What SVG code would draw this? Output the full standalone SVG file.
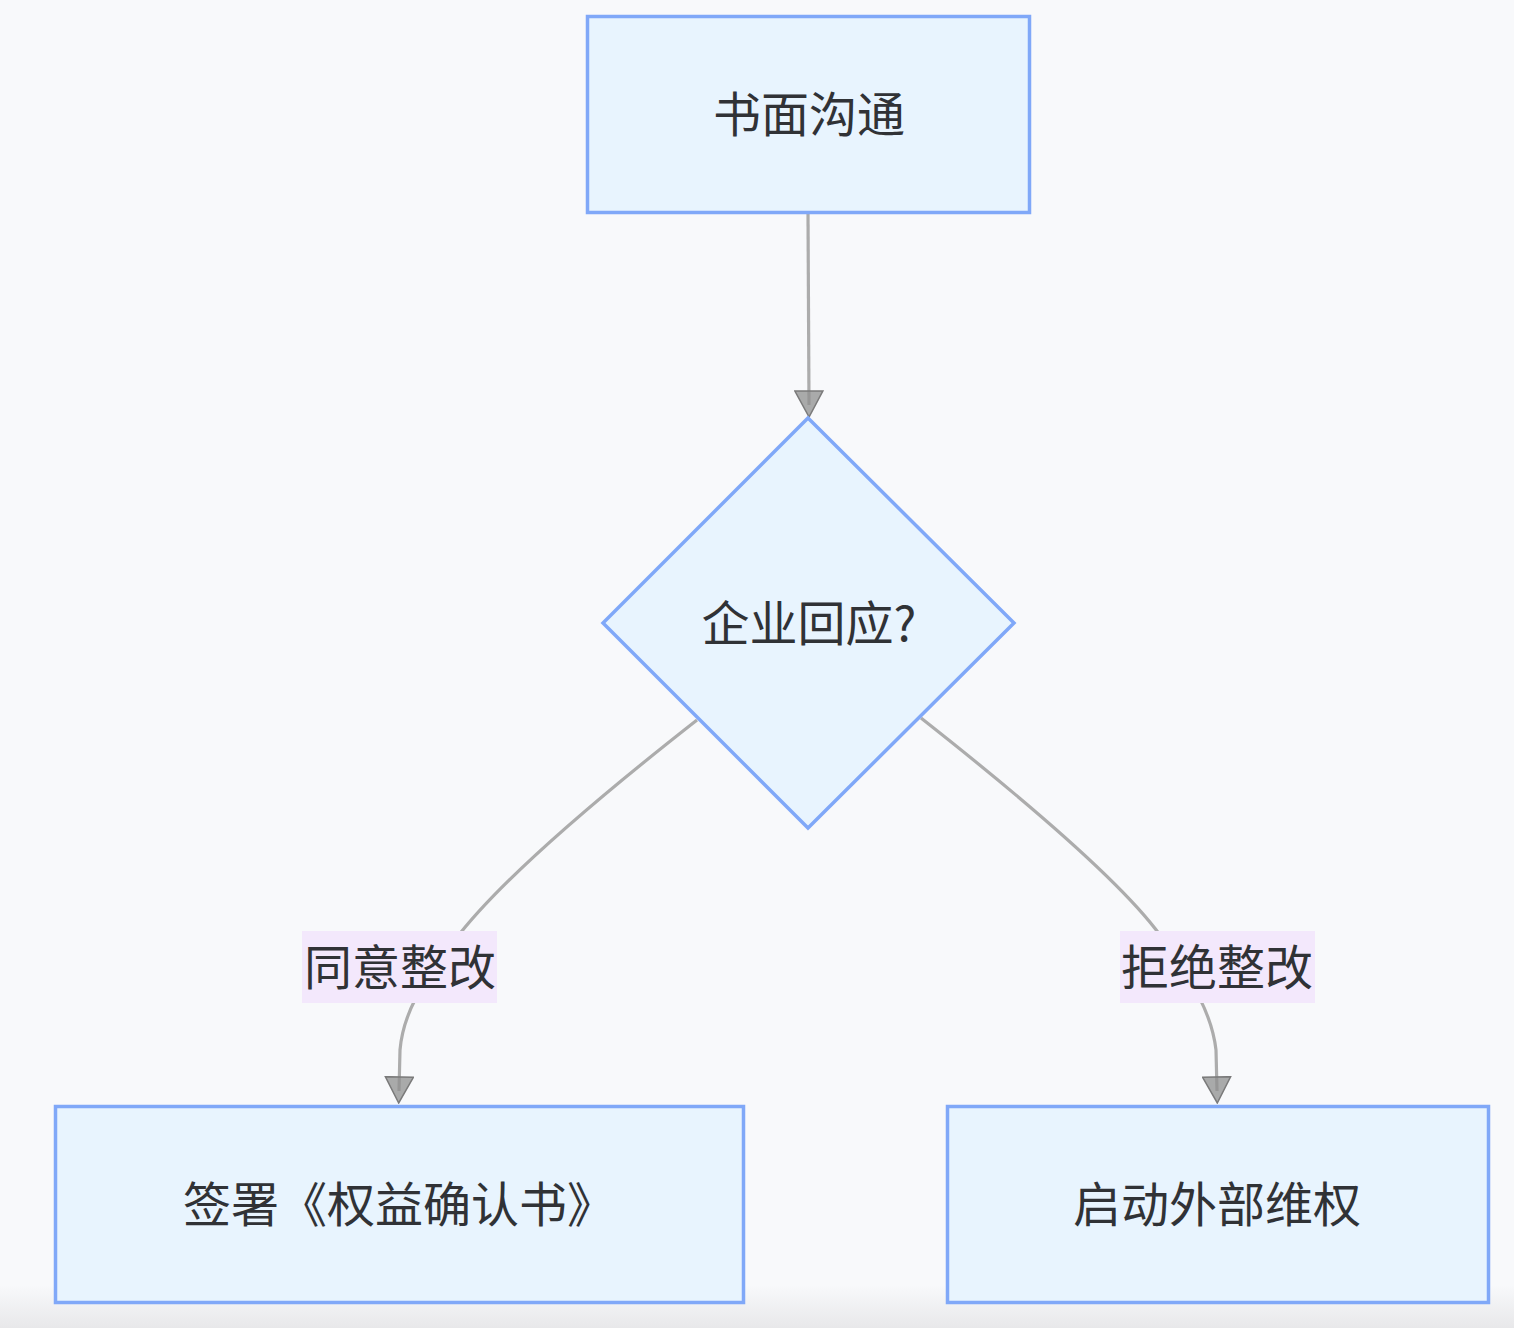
<svg xmlns="http://www.w3.org/2000/svg" width="1514" height="1328" viewBox="0 0 1514 1328">
  <defs>
    <style>
      .node { fill: #e8f4fe; stroke: #80a8f8; stroke-width: 3.5; }
      .edge { fill: none; stroke: #acacac; stroke-width: 3.2; }
      .txt { font-family: "Noto Sans CJK SC", "Noto Sans", sans-serif; font-size: 48px; fill: #303236; text-anchor: middle; dominant-baseline: central; }
      .lblbg { fill: #f3e8fc; }
    </style>
    <marker id="arrow" viewBox="0 0 28 30" refX="15" refY="15" markerWidth="28" markerHeight="30" markerUnits="userSpaceOnUse" orient="auto">
      <path d="M1,1 L27,15 L1,29 z" fill="#8f8f8f" fill-opacity="0.75" stroke="#7a7a7a" stroke-width="1.5"/>
    </marker>
    <linearGradient id="floor" x1="0" y1="0" x2="0" y2="1">
      <stop offset="0" stop-color="#f8f9fb"/>
      <stop offset="1" stop-color="#e8e8ea"/>
    </linearGradient>
  </defs>

  <rect x="0" y="0" width="1514" height="1328" fill="#f8f9fb"/>
  <rect x="0" y="1285" width="1514" height="43" fill="url(#floor)"/>

  <g id="connectors">
    <path class="edge" d="M808,213 L809,405" marker-end="url(#arrow)"/>
    <path class="edge" d="M697,720 C600,796 500,880 455,940 C420,985 403,1015 400,1050 L399,1091" marker-end="url(#arrow)"/>
    <path class="edge" d="M921,718 C1020,796 1120,880 1160,935 C1195,985 1212,1015 1216,1050 L1217,1091" marker-end="url(#arrow)"/>
  </g>

  <g id="label-agree">
    <rect class="lblbg" x="302" y="931" width="195" height="72"/>
    <text class="txt" x="400" y="964">同意整改</text>
  </g>
  <g id="label-refuse">
    <rect class="lblbg" x="1120" y="931" width="195" height="72"/>
    <text class="txt" x="1217" y="964">拒绝整改</text>
  </g>

  <g id="node-written">
    <rect class="node" x="587.5" y="16.5" width="442" height="196"/>
    <text class="txt" x="809" y="111">书面沟通</text>
  </g>

  <g id="node-decision">
    <polygon class="node" points="808,418 1014,623 808,828 603,623"/>
    <text class="txt" x="809" y="620">企业回应?</text>
  </g>

  <g id="node-sign">
    <rect class="node" x="55.5" y="1106.5" width="688" height="196"/>
    <text class="txt" x="399" y="1201">签署《权益确认书》</text>
  </g>

  <g id="node-external">
    <rect class="node" x="947.5" y="1106.5" width="541" height="196"/>
    <text class="txt" x="1217" y="1201">启动外部维权</text>
  </g>
</svg>
